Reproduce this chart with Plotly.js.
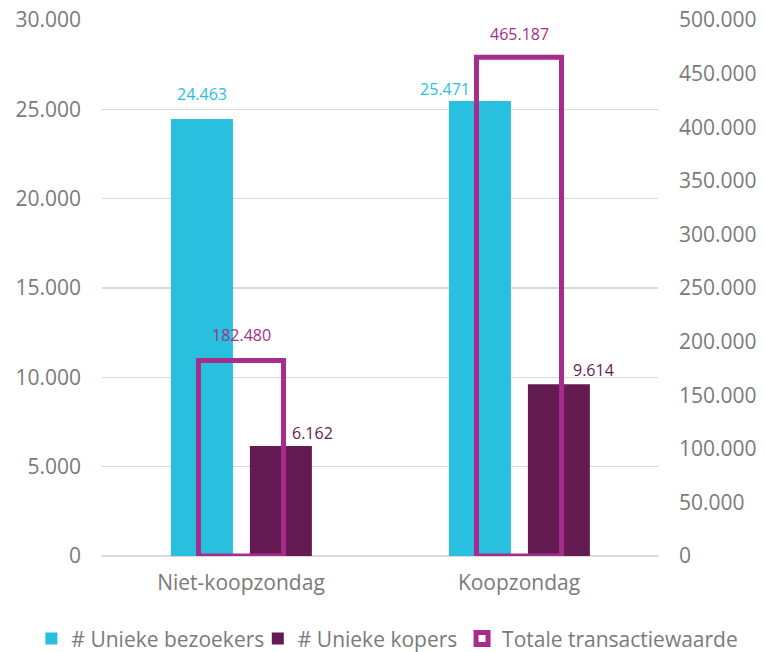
<!DOCTYPE html>
<html>
<head>
<meta charset="utf-8">
<script src="https://cdn.plot.ly/plotly-3.0.1.min.js"></script>
<style>html,body{margin:0;padding:0;background:#fff;}#chart{width:765px;height:652px;}</style>
</head>
<body>
<div id="chart"></div>
<script>
// ---- data ----
var categories = ["Niet-koopzondag", "Koopzondag"];
var uniekeBezoekers = [24463, 25471];
var uniekeKopers = [6162, 9614];
var totaleTransactiewaarde = [182480, 465187];
var seriesNames = ["# Unieke bezoekers", "# Unieke kopers", "Totale transactiewaarde"];
var leftTicks = [0, 5000, 10000, 15000, 20000, 25000, 30000];
var rightTicks = [0, 50000, 100000, 150000, 200000, 250000, 300000, 350000, 400000, 450000, 500000];

// ---- style ----
var cCyan = "#29C0DF", cPlum = "#641B51", cMagenta = "#A62D8B";
var FONT = "'Open Sans', Lato, sans-serif";
var grey = "#7a7a7a";

function fmt(v){ return String(v).replace(/\B(?=(\d{3})+(?!\d))/g, "."); }

var traces = [
  {type:"bar", name:seriesNames[0], x:categories, y:uniekeBezoekers, legend:"legend",
   width:0.223, offset:-0.252, marker:{color:cCyan, line:{width:0}}, hoverinfo:"none"},
  {type:"bar", name:seriesNames[1], x:categories, y:uniekeKopers, legend:"legend2",
   width:0.223, offset:0.032, marker:{color:cPlum, line:{width:0}}, hoverinfo:"none"},
  {type:"bar", name:seriesNames[2], x:categories, y:totaleTransactiewaarde, yaxis:"y2", legend:"legend3",
   width:0.306, offset:-0.153, marker:{color:"rgba(255,255,255,0)", line:{color:cMagenta, width:5}}, hoverinfo:"none"}
];

// label placement (pixel shifts relative to category centre and bar top)
var shiftsBez = [[-39.5, 12], [-74, -1]];
var shiftsKop = [[71, 0], [74.5, 1]];
var shiftsTot = [[0, 12], [0, 10]];
var annotations = [];
categories.forEach(function(c, i){
  annotations.push({x:c, y:uniekeBezoekers[i], xref:"x", yref:"y", text:fmt(uniekeBezoekers[i]),
    showarrow:false, yanchor:"bottom", xanchor:"center", xshift:shiftsBez[i][0], yshift:shiftsBez[i][1],
    font:{family:FONT, size:16, color:cCyan}});
  annotations.push({x:c, y:uniekeKopers[i], xref:"x", yref:"y", text:fmt(uniekeKopers[i]),
    showarrow:false, yanchor:"bottom", xanchor:"center", xshift:shiftsKop[i][0], yshift:shiftsKop[i][1],
    font:{family:FONT, size:16, color:cPlum}});
  annotations.push({x:c, y:totaleTransactiewaarde[i], xref:"x", yref:"y2", text:fmt(totaleTransactiewaarde[i]),
    showarrow:false, yanchor:"bottom", xanchor:"center", xshift:shiftsTot[i][0], yshift:shiftsTot[i][1],
    font:{family:FONT, size:16, color:cMagenta}});
});

function legendAt(x){
  return {orientation:"h", xref:"container", yref:"container", x:x, xanchor:"left", y:0.02, yanchor:"middle",
          font:{family:FONT, size:21, color:grey}, itemwidth:30, bgcolor:"rgba(0,0,0,0)", borderwidth:0};
}

var layout = {
  width:765, height:652,
  margin:{l:102, r:107, t:20, b:96, pad:0, autoexpand:false},
  paper_bgcolor:"#fff", plot_bgcolor:"#fff",
  separators:",.",
  barmode:"overlay",
  font:{family:FONT, size:21, color:grey},
  showlegend:true,
  legend:legendAt(0.041),
  legend2:legendAt(0.337),
  legend3:legendAt(0.604),
  xaxis:{type:"category", range:[-0.5, 1.5], showgrid:false, zeroline:false, showline:false,
         ticks:"", ticklabelstandoff:12, tickfont:{family:FONT, size:21, color:grey}, fixedrange:true},
  yaxis:{range:[0, 30000], tickvals:leftTicks, tickformat:",d", showgrid:true, gridcolor:"#d9d9d9", gridwidth:1.5,
         zeroline:true, zerolinecolor:"#d9d9d9", zerolinewidth:1.5, showline:false, ticks:"",
         ticklabelstandoff:20, tickfont:{family:FONT, size:21, color:grey}, fixedrange:true},
  yaxis2:{range:[0, 500000], tickvals:rightTicks, tickformat:",d", overlaying:"y", side:"right",
          showgrid:false, zeroline:false, showline:false, ticks:"", ticklabelstandoff:20,
          tickfont:{family:FONT, size:21, color:grey}, fixedrange:true},
  annotations:annotations
};

Plotly.newPlot("chart", traces, layout, {displayModeBar:false, staticPlot:true});
</script>
</body>
</html>
